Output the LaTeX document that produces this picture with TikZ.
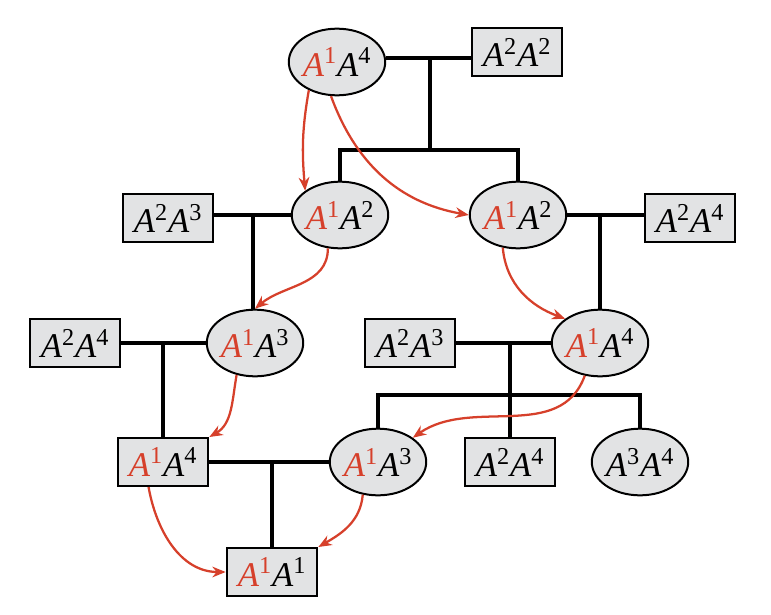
\documentclass[tikz,border=0pt]{standalone}
\usepackage{fontspec}
\setmainfont{Liberation Serif}
\usetikzlibrary{shapes.geometric,arrows.meta}
\definecolor{fillg}{HTML}{E2E3E4}
\definecolor{redc}{HTML}{D6402B}
\newcommand{\RA}[1]{\textcolor{redc}{\textit{A}\textsuperscript{#1}}}
\newcommand{\KA}[1]{\textit{A}\textsuperscript{#1}}
\begin{document}
\begin{tikzpicture}[x=0.75pt,y=-0.75pt,
  every node/.style={font=\fontsize{26}{28}\selectfont},
  ell/.style={ellipse,draw=black,line width=1.5pt,fill=fillg,minimum width=68pt,minimum height=50pt,inner sep=0pt},
  box/.style={rectangle,draw=black,line width=1.5pt,fill=fillg,minimum width=68pt,minimum height=36pt,inner sep=1pt},
  tie/.style={line width=2.4pt,black},
  inh/.style={redc,line width=1.7pt,-{Stealth[length=10pt,width=8pt]}}]
\useasboundingbox (0,0) rectangle (771,614);
% row 1
\node[ell] (t1) at (337,62) {\RA{1}\KA{4}};
\node[box] (t2) at (517,52) {\KA{2}\KA{2}};
% row 2
\node[box] (b23a) at (168,218) {\KA{2}\KA{3}};
\node[ell] (l12) at (340,215) {\RA{1}\KA{2}};
\node[ell] (r12) at (518,215) {\RA{1}\KA{2}};
\node[box] (b24a) at (690,218) {\KA{2}\KA{4}};
% row 3
\node[box] (b24b) at (75,343) {\KA{2}\KA{4}};
\node[ell] (l13) at (255,343) {\RA{1}\KA{3}};
\node[box] (b23b) at (410,343) {\KA{2}\KA{3}};
\node[ell] (r14) at (600,343) {\RA{1}\KA{4}};
% row 4
\node[box] (b14) at (163,462) {\RA{1}\KA{4}};
\node[ell] (m13) at (378,462) {\RA{1}\KA{3}};
\node[box] (b24c) at (510,462) {\KA{2}\KA{4}};
\node[ell] (e34) at (640,462) {\KA{3}\KA{4}};
% row 5
\node[box] (b11) at (272,572) {\RA{1}\KA{1}};
% coordinates
\coordinate (j1) at (430,58);
\coordinate (j1b) at (430,150);
\coordinate (j2) at (253,215);
\coordinate (j3) at (600,215);
\coordinate (j4) at (163,343);
\coordinate (j5) at (510,343);
\coordinate (j5b) at (510,395);
\coordinate (j6) at (272,462);
% ties
\draw[tie] (t1.east |- j1) -- (t2.west |- j1);
\draw[tie] (j1) -- (j1b);
\draw[tie] (l12.north) -- (l12.north |- j1b) -- (r12.north |- j1b) -- (r12.north);
\draw[tie] (b23a.east |- j2) -- (l12.west |- j2);
\draw[tie] (j2) -- (j2 |- l13.north);
\draw[tie] (r12.east |- j3) -- (b24a.west |- j3);
\draw[tie] (j3) -- (r14.north);
\draw[tie] (b24b.east |- j4) -- (l13.west |- j4);
\draw[tie] (j4) -- (b14.north);
\draw[tie] (b23b.east |- j5) -- (r14.west |- j5);
\draw[tie] (j5) -- (b24c.north);
\draw[tie] (m13.north) -- (m13.north |- j5b) -- (e34.north |- j5b) -- (e34.north);
\draw[tie] (b14.east |- j6) -- (m13.west |- j6);
\draw[tie] (j6) -- (b11.north);
% inheritance arrows
\draw[inh] (t1.225) to[out=-100,in=95] (l12.north west);
\draw[inh] (t1.-100) to[out=-70,in=170] (r12.west);
\draw[inh] (l12.-110) to[out=-90,in=40] (l13.north);
\draw[inh] (r12.-115) to[out=-85,in=160] (r14.north west);
\draw[inh] (l13.-120) to[out=-100,in=30] (b14.north east);
\draw[inh] (r14.-115) to[out=-110,in=35] (m13.north east);
\draw[inh] (b14.-120) to[out=-80,in=180] (b11.west);
\draw[inh] (m13.-115) to[out=-95,in=30] (b11.north east);
\end{tikzpicture}
\end{document}
